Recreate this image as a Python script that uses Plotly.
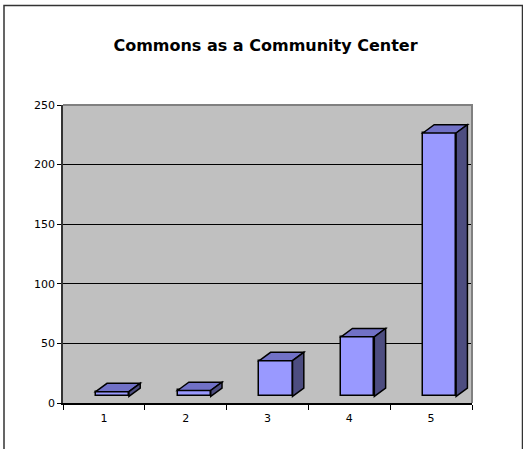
import plotly.graph_objects as go

# ---- data ----
categories = ["1", "2", "3", "4", "5"]
values = [4, 5, 30, 50, 221]          # bar heights (front face)
y_ticks = [0, 50, 100, 150, 200, 250]
title_text = "Commons as a Community Center"

# ---- style constants ----
FLOOR = 5.5          # 3-D floor lift of the column fronts (data units)
BAR_OFFSET = -0.10   # front face left edge relative to category centre
BAR_WIDTH = 0.406
DX = 0.138           # depth, category units
DY = 7.0             # depth, data units
FRONT = "#9999FF"
TOP = "#7171C6"
SIDE = "#4D4D80"
FONT = "DejaVu Sans"

W, H = 523, 449
L, R, T, B = 63, 472, 105, 403   # plot area in pixels

fig = go.Figure()
fig.add_trace(go.Bar(
    x=categories, y=values, base=[FLOOR] * len(values),
    offset=BAR_OFFSET, width=BAR_WIDTH,
    marker=dict(color=FRONT, line=dict(color="black", width=1.5)),
    hoverinfo="skip", showlegend=False,
))

shapes = []
for i, v in enumerate(values):
    x0 = i + BAR_OFFSET
    x1 = x0 + BAR_WIDTH
    y0 = FLOOR
    y1 = FLOOR + v
    top = f"M {x0},{y1} L {x0+DX},{y1+DY} L {x1+DX},{y1+DY} L {x1},{y1} Z"
    side = f"M {x1},{y0} L {x1+DX},{y0+DY} L {x1+DX},{y1+DY} L {x1},{y1} Z"
    shapes.append(dict(type="path", path=top, xref="x", yref="y",
                       fillcolor=TOP, line=dict(color="black", width=1.5), layer="above"))
    shapes.append(dict(type="path", path=side, xref="x", yref="y",
                       fillcolor=SIDE, line=dict(color="black", width=1.5), layer="above"))

# gray top/right border of the plot area
shapes.append(dict(type="path", path="M 0,1 L 1,1 L 1,0", xref="paper", yref="paper",
                   line=dict(color="#808080", width=2), layer="above"))

# outer chart-area border (extends past the image bottom/right)
def px2paper_x(px):
    return (px - L) / (R - L)

def px2paper_y(py):
    return (B - py) / (B - T)

shapes.append(dict(type="rect", xref="paper", yref="paper",
                   x0=px2paper_x(4), x1=px2paper_x(522.5),
                   y0=px2paper_y(470), y1=px2paper_y(5.5),
                   line=dict(color="#333333", width=1.5), fillcolor="rgba(0,0,0,0)",
                   layer="above"))

fig.update_layout(
    width=W, height=H,
    margin=dict(l=L, r=W - R, t=T, b=H - B, pad=0),
    paper_bgcolor="white", plot_bgcolor="#C0C0C0",
    title=dict(text=f"<b>{title_text}</b>", x=265.5 / W, xanchor="center",
               y=1 - 45 / H, yanchor="middle",
               font=dict(family=FONT, size=16, color="black")),
    shapes=shapes,
    bargap=0,
)
fig.update_xaxes(
    type="category", categoryorder="array", categoryarray=categories,
    range=[-0.5, len(categories) - 0.5],
    tickson="boundaries", ticks="outside", ticklen=5, tickwidth=1, tickcolor="black",
    ticklabelstandoff=4,
    showline=True, linecolor="black", linewidth=1.5,
    showgrid=False, zeroline=False,
    tickfont=dict(family=FONT, size=11, color="black"),
)
fig.update_yaxes(
    range=[0, 250], tickvals=y_ticks, ticktext=[str(t) for t in y_ticks],
    ticks="outside", ticklen=4, tickwidth=1, tickcolor="black",
    showline=True, linecolor="#333333", linewidth=1.5,
    showgrid=True, gridcolor="black", gridwidth=1, zeroline=False,
    tickfont=dict(family=FONT, size=11, color="black"),
)

fig.write_html(
    "out.html",
    config={"displayModeBar": False},
    post_script="document.body.style.margin='0';document.body.style.overflow='hidden';",
)
